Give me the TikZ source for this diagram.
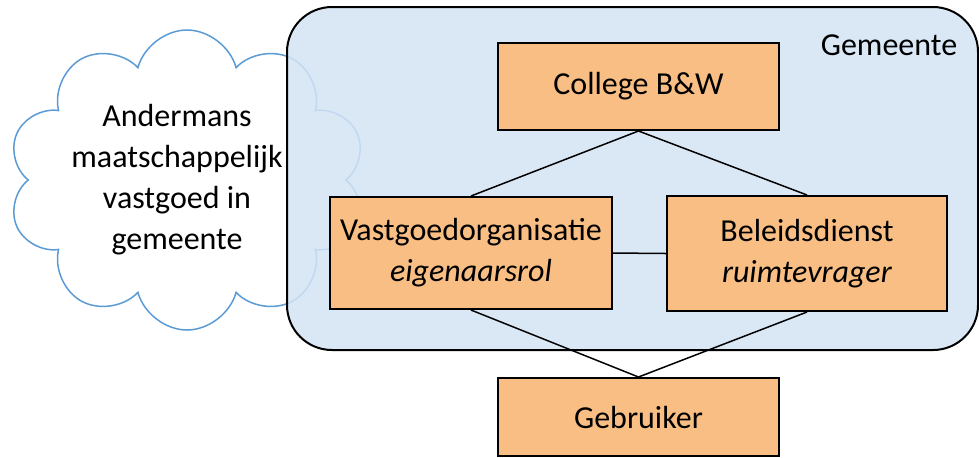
\documentclass[tikz,border=0pt]{standalone}
\usepackage{fontspec}
\setmainfont{Carlito}
\usetikzlibrary{shapes.symbols}
\definecolor{boxorange}{RGB}{249,190,131}
\definecolor{gemeenteblue}{RGB}{212,228,245}
\definecolor{cloudblue}{RGB}{91,155,213}
\begin{document}
\begin{tikzpicture}
  [x=0.5pt,y=-0.5pt,
   every node/.style={font=\fontsize{16}{20.5}\selectfont,align=center,inner sep=0pt},
   orgbox/.style={rectangle,draw,line width=1pt,fill=boxorange,minimum width=140.5pt}]
  \useasboundingbox (0,0) rectangle (979,457);

  \node[cloud,cloud puffs=10,draw=cloudblue,line width=0.75pt,fill=white,
        minimum width=179pt,minimum height=150pt] (wolk) at (187,180) {};
  \node (wolktekst) at (177,180) {Andermans\\maatschappelijk\\vastgoed in\\gemeente};

  \node[rectangle,rounded corners=22.5pt,draw,line width=1pt,fill=gemeenteblue,fill opacity=0.85,
        minimum width=345.5pt,minimum height=171.5pt] (gemeente) at (632.5,178.5) {};
  \node (gemeentelabel) at (889,45) {Gemeente};

  \node[orgbox,minimum height=43.5pt] (college) at (638.5,86.5) {College B\&W};
  \node[orgbox,minimum width=141pt,minimum height=56pt] (vastgoed) at (471,253) {Vastgoedorganisatie\\\textit{eigenaarsrol}};
  \node[orgbox,minimum width=140pt,minimum height=57.5pt] (beleid) at (807,253.5) {Beleidsdienst\\\textit{ruimtevrager}};
  \node[orgbox,minimum height=39pt] (gebruiker) at (638.5,417) {Gebruiker};

  \foreach \from/\to in {college.south/vastgoed.north,college.south/beleid.north,
                         vastgoed.east/beleid.west,
                         vastgoed.south/gebruiker.north,beleid.south/gebruiker.north}
    \draw[line width=0.75pt] (\from) -- (\to);

\end{tikzpicture}
\end{document}
